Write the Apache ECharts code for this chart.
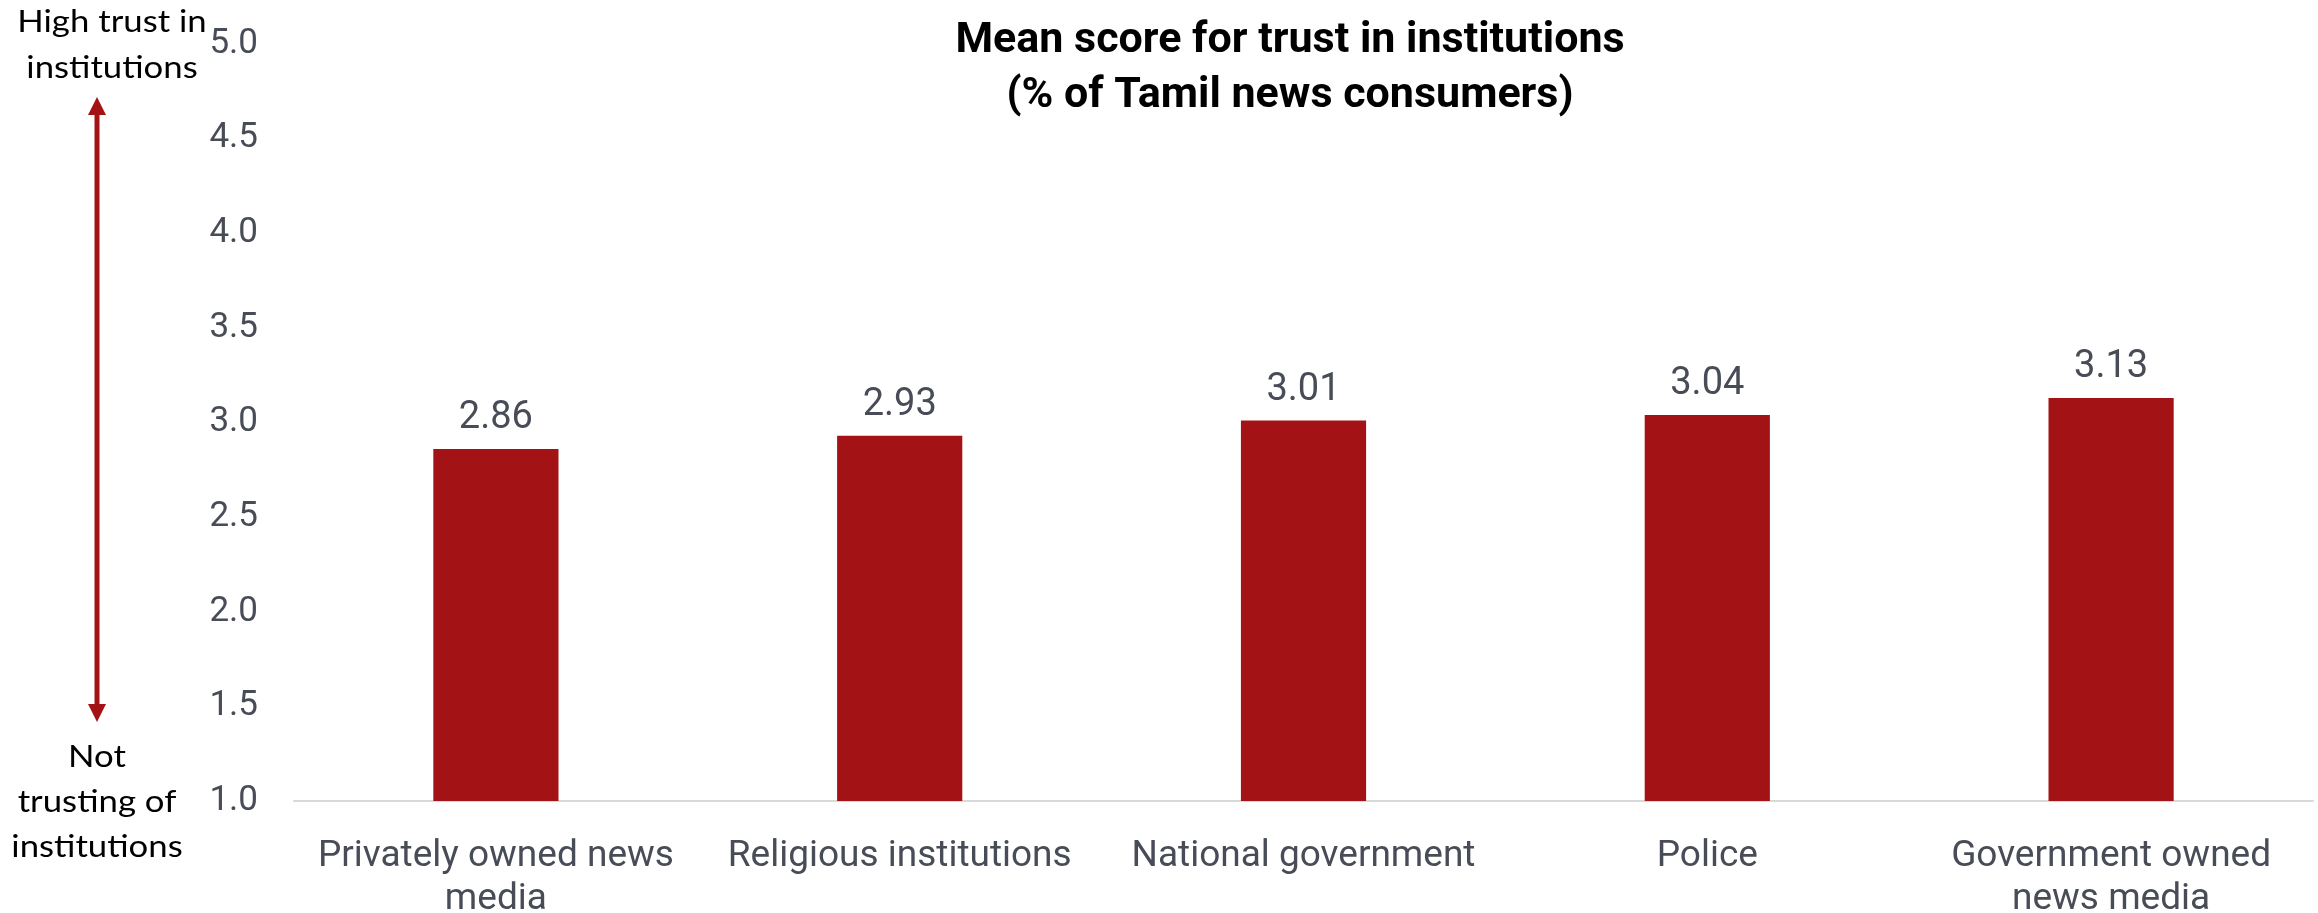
<!DOCTYPE html>
<html>
<head>
<meta charset="utf-8">
<script src="https://cdn.jsdelivr.net/npm/echarts@6/dist/echarts.min.js"></script>
<style>
  html, body { margin: 0; padding: 0; background: #ffffff; overflow: hidden; }
  #chart { width: 2318px; height: 913px; }
</style>
</head>
<body>
<div id="chart"></div>
<script>
// Institutions (x axis), mean trust scores and y-axis ticks
const categories = [
  'Privately owned news\nmedia',
  'Religious institutions',
  'National government',
  'Police',
  'Government owned\nnews media'
];
const meanScores = [2.86, 2.93, 3.01, 3.04, 3.13];
const yTicks = [1.0, 1.5, 2.0, 2.5, 3.0, 3.5, 4.0, 4.5, 5.0];

const titleLines = ['Mean score for trust in institutions', '(% of Tamil news consumers)'];
const highLabel = ['High trust in', 'institutions'];
const lowLabel = ['Not', 'trusting of', 'institutions'];

const RED = '#A31315';
const TEXT = '#474c57';

const chart = echarts.init(document.getElementById('chart'));

const option = {
  animation: false,
  backgroundColor: '#ffffff',
  grid: {
    left: 294, right: 5, top: 44, bottom: 112,
    containLabel: false,
    outerBoundsMode: 'none'
  },
  xAxis: {
    type: 'category',
    data: categories,
    axisLine: { show: true, lineStyle: { color: '#d9d9d9', width: 2 } },
    axisTick: { show: false },
    axisLabel: {
      color: TEXT,
      fontFamily: 'Roboto',
      fontSize: 37,
      lineHeight: 43,
      margin: 34,
      interval: 0
    }
  },
  yAxis: {
    type: 'value',
    min: yTicks[0],
    max: yTicks[yTicks.length - 1],
    interval: 0.5,
    splitLine: { show: false },
    axisLine: { show: false },
    axisTick: { show: false },
    axisLabel: {
      color: TEXT,
      fontFamily: 'Roboto',
      fontSize: 35,
      margin: 36,
      formatter: v => v.toFixed(1)
    }
  },
  series: [{
    type: 'bar',
    data: meanScores,
    barWidth: '31%',
    itemStyle: { color: RED },
    label: {
      show: true,
      position: 'top',
      distance: 11,
      color: TEXT,
      fontFamily: 'Roboto',
      fontSize: 38,
      formatter: p => p.value.toFixed(2)
    }
  }],
  graphic: [
    // Chart title
    {
      type: 'text',
      x: 1290, y: 41,
      style: {
        text: titleLines[0],
        font: 'bold 43px Roboto',
        fill: '#000000',
        textAlign: 'center',
        textVerticalAlign: 'middle'
      }
    },
    {
      type: 'text',
      x: 1290, y: 96,
      style: {
        text: titleLines[1],
        font: 'bold 43px Roboto',
        fill: '#000000',
        textAlign: 'center',
        textVerticalAlign: 'middle'
      }
    },
    // Scale direction labels
    {
      type: 'text',
      x: 112, y: 45,
      scaleX: 1.12,
      style: {
        text: highLabel.join('\n'),
        font: '31px Lato',
        lineHeight: 46,
        fill: '#000000',
        textAlign: 'center',
        textVerticalAlign: 'middle'
      }
    },
    {
      type: 'text',
      x: 97, y: 802,
      scaleX: 1.12,
      style: {
        text: lowLabel.join('\n'),
        font: '31px Lato',
        lineHeight: 45,
        fill: '#000000',
        textAlign: 'center',
        textVerticalAlign: 'middle'
      }
    },
    // Double-headed arrow
    {
      type: 'line',
      shape: { x1: 97, y1: 112, x2: 97, y2: 707 },
      style: { stroke: RED, lineWidth: 5 }
    },
    {
      type: 'polygon',
      shape: { points: [[97, 97], [88, 115], [106, 115]] },
      style: { fill: RED }
    },
    {
      type: 'polygon',
      shape: { points: [[97, 722], [88, 704], [106, 704]] },
      style: { fill: RED }
    }
  ]
};

chart.setOption(option);
</script>
</body>
</html>
